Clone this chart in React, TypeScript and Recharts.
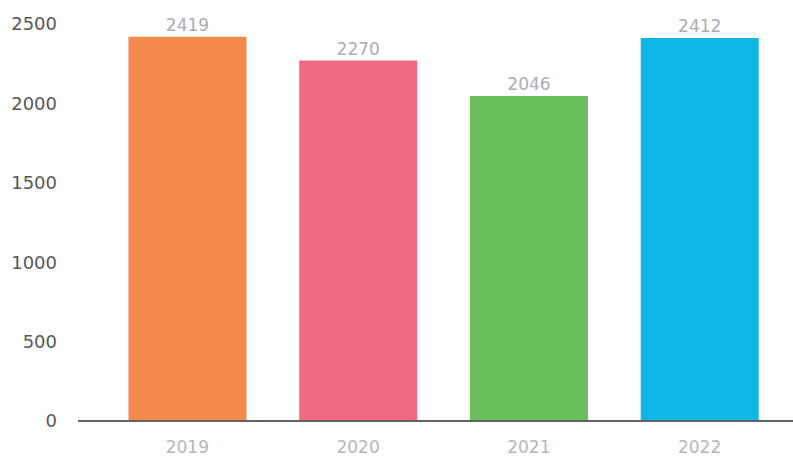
import React from "react";
import { BarChart, Bar, XAxis, YAxis, Cell, LabelList } from "recharts";

// yearly totals
const years = ["2019", "2020", "2021", "2022"];
const totals = [2419, 2270, 2046, 2412];
const barColors = ["#F58A4C", "#F16A81", "#6ABF5D", "#10B6E4"];
const yTicks = [0, 500, 1000, 1500, 2000, 2500];

const data = years.map((year, i) => ({ year, total: totals[i] }));

const FONT = "'DejaVu Sans', sans-serif";

const App = () => {
  return (
    <div style={{ position: "absolute", left: 0, top: 0, fontFamily: FONT }}>
      <BarChart
        width={793}
        height={456}
        data={data}
        margin={{ top: 24, right: 0, bottom: 0, left: 0 }}
        barCategoryGap="15.5%"
      >
        <XAxis
          dataKey="year"
          height={35}
          padding={{ left: 24, right: 8 }}
          axisLine={{ stroke: "#626466", strokeWidth: 2 }}
          tickLine={false}
          tickSize={0}
          tickMargin={20}
          tick={{ fill: "#B3B8BC", fontSize: 17, fontFamily: FONT }}
        />
        <YAxis
          width={78}
          domain={[0, 2500]}
          ticks={yTicks}
          axisLine={false}
          tickLine={false}
          tickSize={0}
          tickMargin={21}
          tick={{ fill: "#555759", fontSize: 18, fontFamily: FONT }}
        />
        <Bar dataKey="total" isAnimationActive={false}>
          {data.map((d, i) => (
            <Cell key={d.year} fill={barColors[i]} />
          ))}
          <LabelList
            dataKey="total"
            position="top"
            offset={6}
            fill="#A9AEB3"
            fontSize={17}
            fontFamily={FONT}
          />
        </Bar>
      </BarChart>
    </div>
  );
};

export default App;
